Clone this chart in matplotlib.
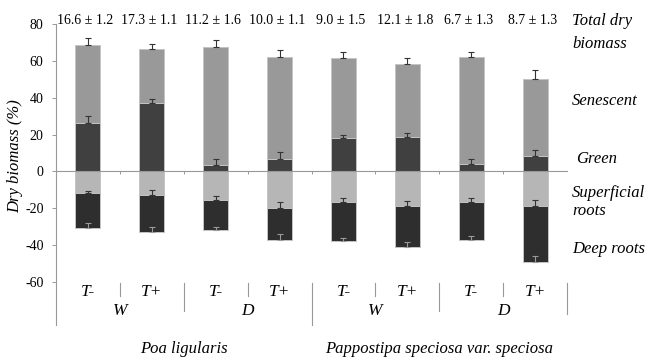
import numpy as np
import matplotlib
matplotlib.use("Agg")
from matplotlib import pyplot as plt
from matplotlib.transforms import blended_transform_factory

# values (% of dry biomass)
treat = ["T-", "T+", "T-", "T+", "T-", "T+", "T-", "T+"]
water = ["W", "D", "W", "D"]
species = ["Poa ligularis", "Pappostipa speciosa var. speciosa"]

green = [26.2, 36.9, 3.6, 7.0, 18.4, 18.6, 4.2, 8.5]
green_err = [3.8, 2.3, 2.9, 3.3, 1.3, 2.4, 2.7, 3.3]
senescent = [42.5, 29.6, 64.1, 55.1, 43.4, 39.8, 57.9, 41.5]
senescent_err = [3.6, 2.5, 3.4, 4.0, 2.9, 3.1, 2.9, 5.1]
superficial = [11.7, 12.6, 15.4, 19.9, 16.8, 19.0, 16.8, 19.0]
superficial_err = [1.3, 2.7, 2.0, 3.4, 2.5, 3.1, 2.2, 3.3]
deep = [19.0, 20.1, 16.2, 17.1, 20.8, 21.8, 20.2, 30.0]
deep_err = [2.5, 2.5, 1.4, 3.1, 1.6, 2.5, 2.0, 3.3]

total_mean = [16.6, 17.3, 11.2, 10.0, 9.0, 12.1, 6.7, 8.7]
total_se = [1.2, 1.1, 1.6, 1.1, 1.5, 1.8, 1.3, 1.3]

plt.rcParams["font.family"] = ["Liberation Serif", "DejaVu Serif"]
plt.rcParams["axes.unicode_minus"] = False

fig = plt.figure(figsize=(6.48, 3.57), dpi=100)
ax = fig.add_axes([56 / 648, 1 - 282 / 357, 511 / 648, 258 / 357])

x = np.arange(len(green))
g = np.array(green)
s = np.array(senescent)
sup = np.array(superficial)
d = np.array(deep)
w = 0.39
edge = dict(edgecolor="#c4c4c4", linewidth=0.7)

ax.bar(x, g, w, color="#404040", **edge, zorder=2)
ax.bar(x, s, w, bottom=g, color="#999999", **edge, zorder=2)
ax.bar(x, -sup, w, color="#b6b6b6", **edge, zorder=2)
ax.bar(x, -d, w, bottom=-sup, color="#2e2e2e", **edge, zorder=2)

zero = np.zeros(len(x))
eb = dict(fmt="none", capsize=2.2, elinewidth=0.8, capthick=0.8, zorder=3)
ax.errorbar(x, g, yerr=[zero, green_err], ecolor="#333333", **eb)
ax.errorbar(x, g + s, yerr=[zero, senescent_err], ecolor="#333333", **eb)
ax.errorbar(x, -sup, yerr=[zero, superficial_err], ecolor="#333333", **eb)
ax.errorbar(x, -sup - d, yerr=[zero, deep_err], ecolor="#9a9a9a", **eb)

ax.set_xlim(-0.5, 7.5)
ax.set_ylim(-60, 80)
ax.set_yticks(np.arange(-60, 81, 20))
ax.tick_params(axis="y", labelsize=10, length=3, width=0.6, color="#888888", pad=6)

for sp in ["top", "right"]:
    ax.spines[sp].set_visible(False)
ax.spines["bottom"].set_position(("data", 0))
ax.spines["bottom"].set_color("#999999")
ax.spines["left"].set_visible(False)
ax.plot([-0.5, -0.5], [80, -83.6], color="#999999", lw=0.8, clip_on=False)

ax.set_xticks(np.arange(0.5, 7, 1))
ax.set_xticklabels([])
ax.tick_params(axis="x", length=2.5, width=0.6, color="#888888")

# multi level category labels
for i, t in enumerate(treat):
    ax.text(i, -65.2, t, ha="center", va="center", style="italic", fontsize=12.5, clip_on=False)
for j, lab in enumerate(water):
    ax.text(2 * j + 0.5, -76.0, lab, ha="center", va="center", style="italic", fontsize=12.5, clip_on=False)
for k, lab in enumerate(species):
    ax.text(4 * k + 1.5, -96.1, lab, ha="center", va="center", style="italic", fontsize=12, clip_on=False)

short_sep = [0.5, 2.5, 4.5, 6.5]
for xs in short_sep:
    ax.plot([xs, xs], [-60.3, -67.4], color="#999999", lw=0.8, clip_on=False)
for xs in [1.5, 5.5]:
    ax.plot([xs, xs], [-60.3, -75.5], color="#999999", lw=0.8, clip_on=False)
ax.plot([3.5, 3.5], [-60.3, -83.6], color="#999999", lw=0.8, clip_on=False)
ax.plot([7.5, 7.5], [-60.3, -77.1], color="#999999", lw=0.8, clip_on=False)

for i in range(len(x)):
    ax.text(i - 0.04, 81.7, "%.1f \u00b1 %.1f" % (total_mean[i], total_se[i]),
            ha="center", va="center", fontsize=10, clip_on=False)

# legend-like labels on the right
rl = dict(ha="left", va="center", style="italic", fontsize=12, clip_on=False)
ax.text(7.58, 81.7, "Total dry", **rl)
ax.text(7.58, 69.2, "biomass", **rl)
ax.text(7.58, 38.3, "Senescent", **rl)
ax.text(7.64, 6.9, "Green", **rl)
ax.text(7.58, -11.5, "Superficial", **rl)
ax.text(7.58, -21.3, "roots", **rl)
ax.text(7.58, -41.9, "Deep roots", **rl)

trans = blended_transform_factory(fig.transFigure, ax.transData)
fig.text(15 / 648, 8.5, "Dry biomass (%)", transform=trans, rotation=90,
         ha="center", va="center", style="italic", fontsize=12)

fig.savefig("out.png", dpi=100)
